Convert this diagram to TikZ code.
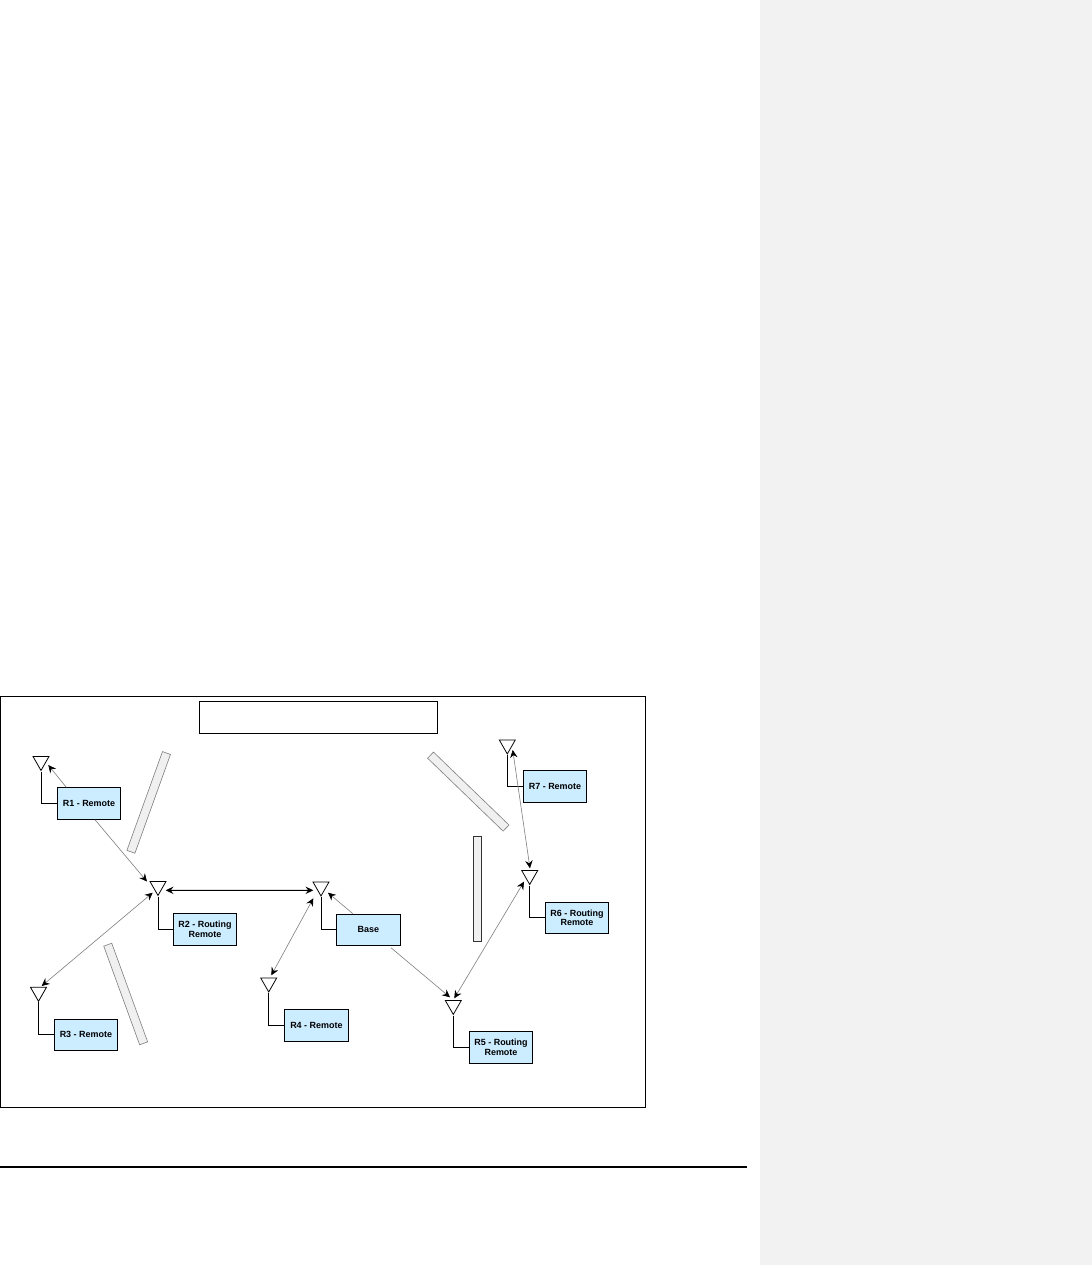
\documentclass[tikz,border=0pt]{standalone}
\usepackage{fontspec}
\setmainfont{Liberation Sans}
\usetikzlibrary{shapes.geometric,arrows.meta,calc}
\definecolor{boxblue}{HTML}{CCECFF}
\definecolor{wallgray}{HTML}{F0F0F0}
\definecolor{sidegray}{HTML}{F2F2F2}
\tikzset{
    frame/.style={draw=black, line width=0.55pt, inner sep=0pt},
    radio/.style={draw=black, fill=boxblue, line width=0.55pt, inner sep=0pt, align=center,
        minimum width=1.27cm, minimum height=0.63cm,
        font=\fontsize{5.1}{5.6}\selectfont\bfseries},
    antenna/.style={draw=black, line width=0.45pt, inner sep=0pt, anchor=apex,
        isosceles triangle, isosceles triangle stretches, shape border rotate=-90,
        minimum width=0.32cm, minimum height=0.28cm},
    feed/.style={black, line width=0.5pt},
    wall/.style={draw=gray, fill=wallgray, line width=0.35pt, inner sep=0pt, minimum height=0.17cm},
    link/.style={draw=gray, line width=0.35pt},
    tip/.tip={Stealth[black, length=4.4pt, width=4.2pt, inset=1.5pt]}
}
\begin{document}
\begin{tikzpicture}[x=0.02cm, y=-0.02cm]
    \useasboundingbox (0,0) rectangle (1092,1265);

    % --- 1. Page furniture ---
    \fill[sidegray] (760,0) rectangle (1092,1265);
    \draw[black, line width=1.15pt] (0,1166.5) -- (747,1166.5);

    % --- 2. Frame and empty title ---
    \node[frame, minimum width=12.9cm, minimum height=8.22cm] (frame) at (323,901.7) {};
    \node[frame, minimum width=4.78cm, minimum height=0.64cm] (title) at (318.5,717.5) {};

    % --- 3. Obstacles ---
    \foreach \n/\cx/\cy/\len/\ang in {a/148.7/802.4/2.1cm/70.2, b/125.7/994/2.1cm/-70, c/468.3/791.6/2.1cm/-44} {
        \node[wall, minimum width=\len, rotate=\ang] (wall\n) at (\cx,\cy) {};
    }
    \node[wall, draw=black!80, minimum width=2.11cm, rotate=90] (walld) at (477.5,888.9) {};

    % --- 4. Radios ---
    \node[radio] (r1) at (89,803.5) {R1 - Remote};
    \node[radio] (r2) at (205,929.3) {R2 - Routing\\Remote};
    \node[radio] (r3) at (85.9,1034.8) {R3 - Remote};
    \node[radio] (r4) at (316.4,1025.3) {R4 - Remote};
    \node[radio] (base) at (368.4,929.8) {Base};
    \node[radio] (r5) at (501,1047.3) {R5 - Routing\\Remote};
    \node[radio] (r6) at (577,917.8) {R6 - Routing\\Remote};
    \node[radio] (r7) at (555,786.3) {R7 - Remote};

    % --- 5. Antennas and their feeds ---
    \foreach \a/\x/\y/\b in {a1/41/771.5/r1, a2/158/896.5/r2, a3/38.5/1002.3/r3, a4/268.7/993/r4,
                             a0/321/897/base, a5/453.3/1015.5/r5, a6/529.7/885.5/r6, a7/507.3/755/r7} {
        \node[antenna] (\a) at (\x,\y) {};
        \draw[feed] (\a.apex) |- (\b.west);
    }

    % --- 6. Radio links ---
    \draw[link, -{tip}] ($(r1.north west)+(9.5,0)$) -- ($(a1.apex)+(7.3,-6.5)$);
    \draw[link, -{tip}] ($(r1.south)+(6,0)$) -- ($(a2.apex)+(-11,-15)$);
    \draw[link, {tip}-{tip}] ($(a3.apex)+(3.2,-16.3)$) -- ($(a2.apex)+(-5.3,-3.8)$);
    \draw[black, line width=0.55pt, {tip}-{tip}] ($(a2.apex)+(7.7,-6.2)$) -- ($(a0.apex)+(-7.7,-6.7)$);
    \draw[link, {tip}-{tip}] ($(a4.apex)+(2.6,-17.7)$) -- ($(a0.apex)+(-7.7,1.3)$);
    \draw[link, -{tip}] ($(base.north)+(-15.7,0)$) -- ($(a0.apex)+(7,-4.3)$);
    \draw[link, -{tip}] ($(base.south)+(22.6,1.7)$) -- ($(a5.apex)+(-3.3,-18.2)$);
    \draw[link, {tip}-{tip}] ($(a5.apex)+(1,-17.2)$) -- ($(a6.apex)+(-5.7,-3.8)$);
    \draw[link, {tip}-{tip}] ($(a6.apex)+(0.3,-17.2)$) -- ($(a7.apex)+(5.4,-5)$);
\end{tikzpicture}
\end{document}
